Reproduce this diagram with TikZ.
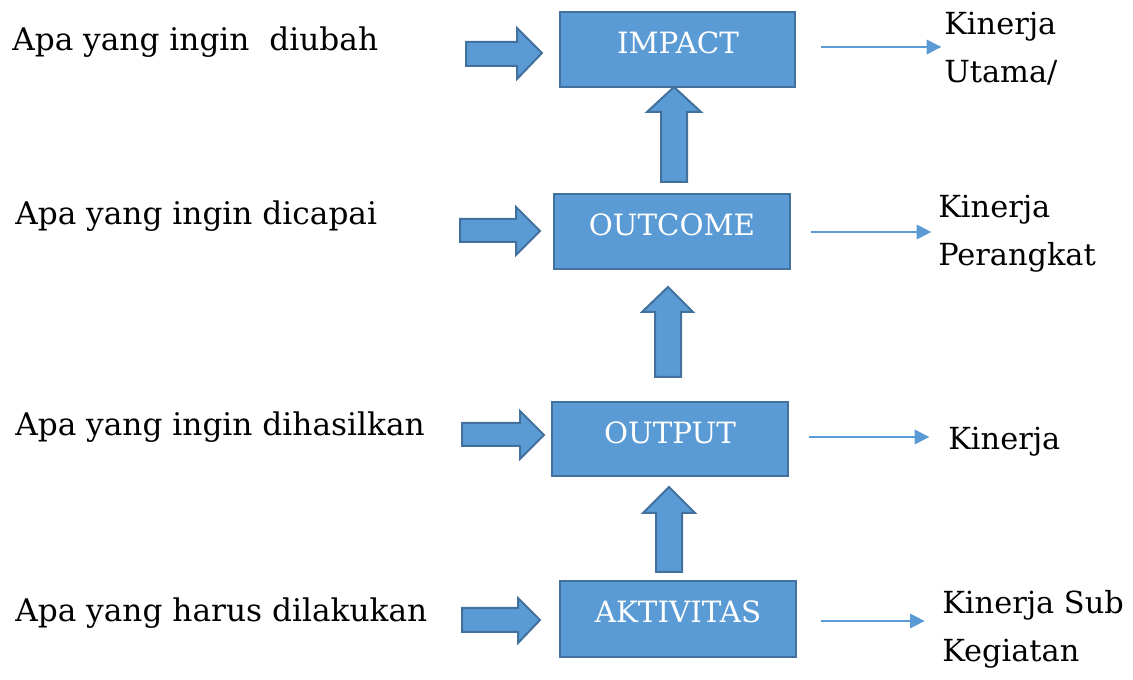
\documentclass[tikz,border=0pt]{standalone}
\usepackage{fontspec}
\setmainfont{DejaVu Serif}
\usetikzlibrary{arrows.meta,fit}
\definecolor{boxfill}{HTML}{5B9BD5}
\definecolor{boxline}{HTML}{41719C}
\tikzset{
  box/.style={draw=boxline, fill=boxfill, line width=1.5pt, inner sep=0pt},
  boxlabel/.style={text=white, inner sep=0pt, anchor=base, font=\fontsize{22}{26}\selectfont},
  blockarrow/.style={draw=boxline, fill=boxfill, line width=1.5pt, line join=miter},
  thinarrow/.style={draw=boxfill, line width=0.8pt, -{Triangle[length=11pt,width=11pt]}},
  lefttext/.style={inner sep=0pt, anchor=base west, font=\fontsize{23.4}{28}\selectfont},
  righttext/.style={inner sep=0pt, anchor=base west, align=left, font=\fontsize{22.8}{36}\selectfont},
}
\begin{document}
\begin{tikzpicture}[x=0.75pt,y=-0.75pt]
\useasboundingbox (0,0) rectangle (1133,680);
% boxes
\node[box, fit={(560,12)(795,87)}] (impact) {};
\node[box, fit={(554,194)(790,269)}] (outcome) {};
\node[box, fit={(552,402)(788,476)}] (output) {};
\node[box, fit={(560,581)(796,657)}] (aktivitas) {};
\node[boxlabel] (impactl) at (678,54) {IMPACT};
\node[boxlabel] (outcomel) at (672,236) {OUTCOME};
\node[boxlabel] (outputl) at (670,444) {OUTPUT};
\node[boxlabel] (aktivitasl) at (678,623) {AKTIVITAS};
% up block arrows
\draw[blockarrow] (661,182) -- (661,112) -- (647,112) -- (674,87) -- (701,112) -- (687,112) -- (687,182) -- cycle;
\draw[blockarrow] (655,377) -- (655,312) -- (642,312) -- (668,287) -- (693,312) -- (681,312) -- (681,377) -- cycle;
\draw[blockarrow] (656,572) -- (656,513) -- (643,513) -- (669,487) -- (695,513) -- (682,513) -- (682,572) -- cycle;
% right block arrows
\draw[blockarrow] (466,42) -- (517,42) -- (517,28) -- (542,53) -- (517,79) -- (517,66) -- (466,66) -- cycle;
\draw[blockarrow] (460,219) -- (516,219) -- (516,207) -- (540,231) -- (516,255) -- (516,242) -- (460,242) -- cycle;
\draw[blockarrow] (462,423) -- (520,423) -- (520,411) -- (544,435) -- (520,459) -- (520,446) -- (462,446) -- cycle;
\draw[blockarrow] (462,608) -- (518,608) -- (518,598) -- (540,620) -- (518,643) -- (518,632) -- (462,632) -- cycle;
% left texts
\node[lefttext] (t1) at (12,51) {Apa yang ingin\ \ diubah};
\node[lefttext] (t2) at (15,225) {Apa yang ingin dicapai};
\node[lefttext] (t3) at (15,436) {Apa yang ingin dihasilkan};
\node[lefttext] (t4) at (15,622) {Apa yang harus dilakukan};
% right texts (anchor at baseline of last line)
\node[righttext] (r1) at (944,83) {Kinerja\\Utama/};
\node[righttext] (r2) at (938,266) {Kinerja\\Perangkat};
\node[righttext] (r3) at (948,450) {Kinerja};
\node[righttext] (r4) at (942,662) {Kinerja Sub\\Kegiatan};
% thin arrows
\coordinate (s1) at (821,47);
\coordinate (s2) at (811,232);
\coordinate (s3) at (809,437);
\coordinate (s4) at (821,621);
\draw[thinarrow] (s1) -- ([xshift=-2pt]s1 -| r1.west);
\draw[thinarrow] (s2) -- ([xshift=-5pt]s2 -| r2.west);
\draw[thinarrow] (s3) -- ([xshift=-14pt]s3 -| r3.west);
\draw[thinarrow] (s4) -- ([xshift=-13pt]s4 -| r4.west);
\end{tikzpicture}
\end{document}
